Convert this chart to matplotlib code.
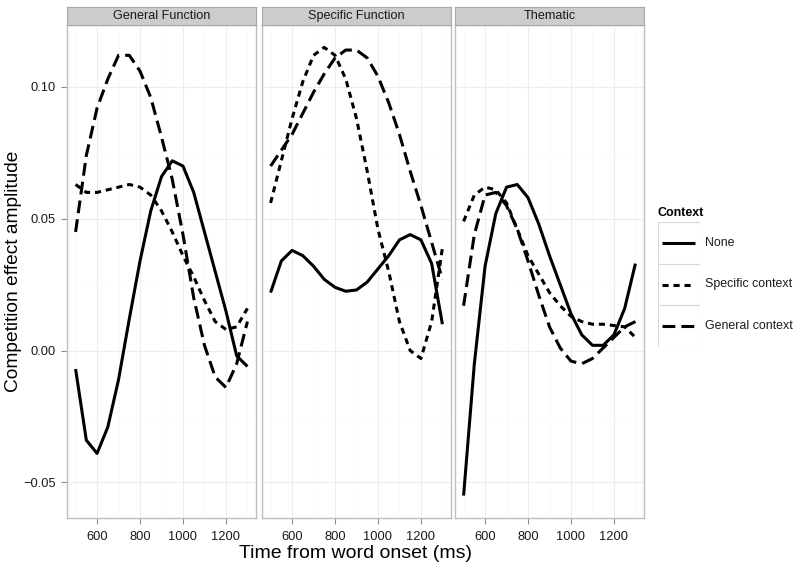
import matplotlib
matplotlib.use("Agg")
import matplotlib.pyplot as plt
from matplotlib.patches import Rectangle
from matplotlib.lines import Line2D

plt.rcParams['font.family'] = ['Liberation Sans', 'DejaVu Sans']

time_ms = [500, 550, 600, 650, 700, 750, 800, 850, 900, 950, 1000, 1050, 1100, 1150, 1200, 1250, 1300]
panels = ["General Function", "Specific Function", "Thematic"]
contexts = ["None", "Specific context", "General context"]

gf_none = [-0.007, -0.034, -0.039, -0.029, -0.011, 0.012, 0.034, 0.053, 0.066, 0.072, 0.070, 0.060, 0.045, 0.030, 0.015, -0.002, -0.006]
gf_specific = [0.063, 0.060, 0.060, 0.061, 0.062, 0.063, 0.062, 0.059, 0.053, 0.045, 0.036, 0.028, 0.019, 0.011, 0.008, 0.009, 0.016]
gf_general = [0.045, 0.074, 0.092, 0.103, 0.112, 0.112, 0.106, 0.096, 0.081, 0.065, 0.044, 0.020, 0.002, -0.010, -0.014, -0.005, 0.011]

sf_none = [0.022, 0.034, 0.038, 0.036, 0.032, 0.027, 0.024, 0.0225, 0.023, 0.026, 0.031, 0.036, 0.042, 0.044, 0.042, 0.033, 0.010]
sf_specific = [0.056, 0.072, 0.088, 0.102, 0.112, 0.115, 0.112, 0.103, 0.088, 0.068, 0.046, 0.030, 0.011, 0.000, -0.003, 0.011, 0.039]
sf_general = [0.070, 0.076, 0.082, 0.090, 0.098, 0.105, 0.111, 0.114, 0.114, 0.111, 0.104, 0.094, 0.082, 0.068, 0.055, 0.041, 0.027]

th_none = [-0.055, -0.005, 0.032, 0.052, 0.062, 0.063, 0.058, 0.048, 0.036, 0.025, 0.014, 0.006, 0.002, 0.002, 0.006, 0.016, 0.033]
th_specific = [0.049, 0.059, 0.062, 0.061, 0.056, 0.046, 0.036, 0.029, 0.022, 0.017, 0.013, 0.011, 0.010, 0.010, 0.0095, 0.009, 0.005]
th_general = [0.017, 0.044, 0.059, 0.060, 0.055, 0.046, 0.034, 0.021, 0.009, 0.001, -0.004, -0.005, -0.003, 0.001, 0.005, 0.009, 0.011]

panel_data = [
    [gf_none, gf_specific, gf_general],
    [sf_none, sf_specific, sf_general],
    [th_none, th_specific, th_general],
]

x_ticks = [600, 800, 1000, 1200]
y_ticks = [-0.05, 0.00, 0.05, 0.10]
y_ticklabels = ["\u22120.05", "0.00", "0.05", "0.10"]

LW = 2.2
styles = ['-', (0, (2.0, 1.6)), (0, (4.2, 2.0))]

W, H = 800, 569
fig = plt.figure(figsize=(W / 100, H / 100), dpi=100)

panel_left = [67, 262, 455]
panel_w = 189
top_px, bot_px = 25, 518
strip_top = 7

border_col = '#bdbdbd'
grid_major = '#ededed'
grid_minor = '#f8f8f8'
text_col = '#1a1a1a'

for i, name in enumerate(panels):
    l = panel_left[i] / W
    b = 1 - bot_px / H
    w = panel_w / W
    h = (bot_px - top_px) / H
    ax = fig.add_axes([l, b, w, h])
    ax.set_xlim(460, 1340)
    ax.set_ylim(-0.0635, 0.1235)
    ax.set_xticks(x_ticks)
    ax.set_xticks([500, 700, 900, 1100, 1300], minor=True)
    ax.set_yticks(y_ticks)
    ax.set_yticks([-0.025, 0.025, 0.075], minor=True)
    ax.grid(True, which='major', color=grid_major, lw=0.8)
    ax.grid(True, which='minor', color=grid_minor, lw=0.5)
    ax.set_axisbelow(True)
    for sp in ax.spines.values():
        sp.set_color(border_col)
        sp.set_linewidth(1.0)
    ax.tick_params(which='minor', length=0)
    ax.tick_params(which='major', length=4, width=0.8, color='#8c8c8c', labelsize=9.3,
                   labelcolor=text_col, pad=4)
    ax.tick_params(axis='x', pad=5)
    if i == 0:
        ax.set_yticklabels(y_ticklabels)
    else:
        ax.tick_params(axis='y', left=False, labelleft=False)
    for series, ls in zip(panel_data[i], styles):
        ax.plot(time_ms, series, color='black', lw=LW, linestyle=ls,
                solid_capstyle='butt', dash_capstyle='butt')

    sax = fig.add_axes([l, 1 - top_px / H, w, (top_px - strip_top) / H])
    sax.set_facecolor('#cccccc')
    sax.set_xticks([])
    sax.set_yticks([])
    for sp in sax.spines.values():
        sp.set_color('#a8a8a8')
        sp.set_linewidth(0.8)
    sax.text(0.5, 0.5, name, ha='center', va='center', fontsize=9.1, color=text_col,
             transform=sax.transAxes)

fig.text(355.5 / W, 1 - 553 / H, "Time from word onset (ms)", ha='center', va='center',
         fontsize=14, color='black')
fig.text(13.5 / W, 1 - 271.5 / H, "Competition effect amplitude", ha='center', va='center',
         rotation=90, fontsize=13.8, color='black')

# legend
lx0, lx1 = 658, 700
ly0, ly1 = 222, 347
lax = fig.add_axes([lx0 / W, 1 - ly1 / H, (lx1 - lx0) / W, (ly1 - ly0) / H])
lax.set_xlim(0, 1)
lax.set_ylim(0, 3)
lax.axis('off')
for k, (lab, ls) in enumerate(zip(contexts, styles)):
    yb = 2 - k
    lax.add_patch(Rectangle((0, yb), 1, 1, facecolor='white', edgecolor='#d9d9d9', lw=0.8))
    lax.add_line(Line2D([0.09, 0.87], [yb + 0.5, yb + 0.5], color='black', lw=LW,
                        linestyle=ls, solid_capstyle='butt', dash_capstyle='butt'))
    fig.text(705 / W, 1 - (ly0 + (k + 0.5) * (ly1 - ly0) / 3) / H, lab, ha='left',
             va='center', fontsize=8.9, color=text_col)
fig.text(658 / W, 1 - 212.5 / H, "Context", ha='left', va='center', fontsize=9,
         fontweight='bold', color='black')

fig.savefig("out.png", dpi=100)
